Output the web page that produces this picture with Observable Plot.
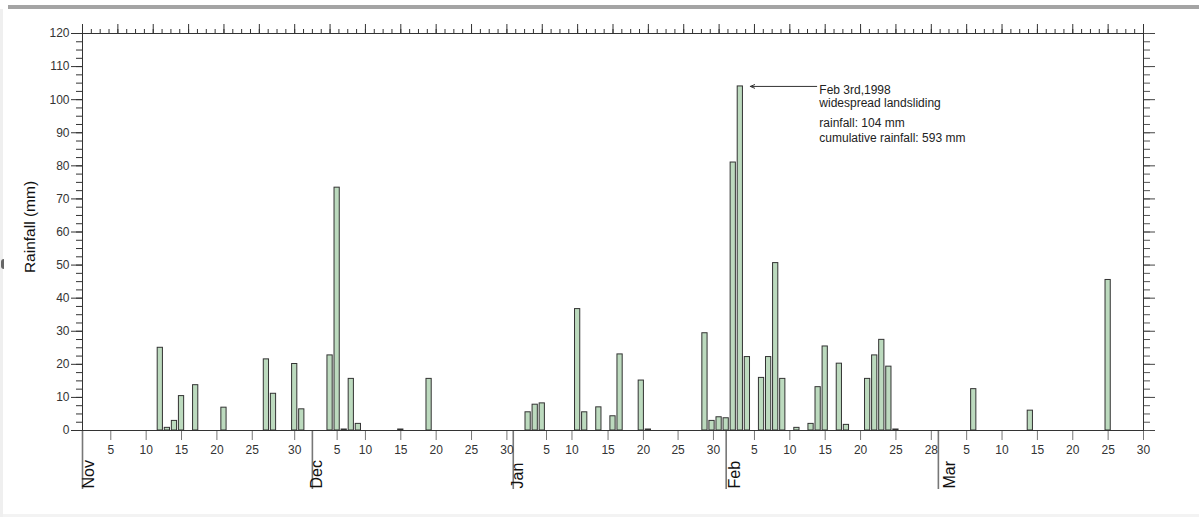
<!DOCTYPE html>
<html>
<head>
<meta charset="utf-8">
<script src="https://cdn.jsdelivr.net/npm/d3@7"></script>
<script src="https://cdn.jsdelivr.net/npm/@observablehq/plot@0.6"></script>
<style>
  html, body { margin: 0; padding: 0; background: #fff; }
  #wrap { position: relative; width: 1199px; height: 517px; overflow: hidden; }
  #wrap svg { position: absolute; left: 0; top: 0; }
  .topbar { position: absolute; left: 8px; top: 5px; width: 1191px; height: 4px; background: #a4a4a4; }
  .leftbar { position: absolute; left: 0; top: 9px; width: 3px; height: 508px; background: #efefef; }
  .bottombar { position: absolute; left: 3px; top: 514px; width: 1196px; height: 3px; background: #f3f3f3; }
  .nub { position: absolute; left: 1px; top: 259px; width: 3px; height: 10px; background: #666; border-radius: 3px 0 0 3px; }
</style>
</head>
<body>
<div id="wrap">
  <div class="topbar"></div>
  <div class="leftbar"></div>
  <div class="bottombar"></div>
  <div class="nub"></div>
</div>
<script>
// Day index along the plotted time axis (left edge = 0, right edge = 150)
const barDay = [11,12,13,14,16,20,26,27,30,31,35,36,37,38,39,45,49,63,64,65,70,71,73,75,76,79,80,88,89,90,91,92,93,94,96,97,98,99,101,103,104,105,107,108,111,112,113,114,115,126,134,145];
// Daily rainfall (mm)
const barRain = [25,0.8,2.9,10.4,13.7,6.9,21.5,11.1,20.1,6.4,22.7,73.4,0.3,15.6,2.0,0.3,15.6,5.5,7.8,8.2,36.7,5.5,7.0,4.3,23.0,15.1,0.3,29.4,2.9,4.0,3.7,81.0,104,22.2,15.9,22.2,50.6,15.6,0.8,2.0,13.1,25.4,20.2,1.7,15.6,22.7,27.4,19.3,0.3,12.5,6.0,45.5];

// Bottom axis day ticks
const dayTickPos = [4,9,14,19,24,30, 36,40,45,50,55,60, 65.6,69.2,74.3,79.3,84.2,89.2, 95,100,105,110,115,120, 125,130,135,140,145,150];
const dayTickLabel = ["5","10","15","20","25","30", "5","10","15","20","25","30", "5","10","15","20","25","30", "5","10","15","20","25","28", "5","10","15","20","25","30"];

// Months
const monthNames = ["Nov","Dec","Jan","Feb","Mar"];
const monthStart = [0, 32.5, 60.9, 91, 121];
const monthLabelPos = [1.6, 33.9, 62.3, 93.0, 123.3];

// Y ticks
const yMajor = [0,10,20,30,40,50,60,70,80,90,100,110,120];

// Annotation
const annotDay = 93;
const annotValue = 104;
const annotLines1 = ["Feb 3rd,1998", "widespread landsliding"];
const annotLines2 = ["rainfall: 104 mm", "cumulative rainfall: 593 mm"];
const yTitle = "Rainfall (mm)";

const bars = barDay.map((d, i) => ({day: d, rain: barRain[i]}));
const tickLabelMap = new Map(dayTickPos.map((p, i) => [p, dayTickLabel[i]]));
const months = monthNames.map((m, i) => ({name: m, start: monthStart[i], label: monthLabelPos[i]}));
const yMinor = d3.range(0, 120.001, 2.5);
const topMajor = d3.range(0, 150.001, 5);
const topMinor = d3.range(0, 150.001, 1.25);
const half = 0.37;
const blank = () => "";

const chart = Plot.plot({
  width: 1199,
  height: 517,
  marginTop: 33,
  marginBottom: 87,
  marginLeft: 82,
  marginRight: 56,
  x: {domain: [0, 150]},
  y: {domain: [0, 120]},
  style: {
    fontFamily: "'Liberation Sans', Arial, Helvetica, sans-serif",
    fontSize: "12px",
    color: "#333",
    background: "transparent",
    overflow: "visible"
  },
  marks: [
    Plot.axisX({ticks: monthStart, tickSize: 59, tickFormat: blank, stroke: "#777", strokeWidth: 1.6, label: null}),
    Plot.axisX({ticks: dayTickPos, tickSize: 10, tickPadding: 5, tickFormat: d => tickLabelMap.get(d), stroke: "#777", fill: "#333", fontSize: 12, label: null}),
    Plot.axisX({anchor: "top", ticks: topMajor, tickSize: 10, tickFormat: blank, stroke: "#333", label: null}),
    Plot.axisX({anchor: "top", ticks: topMinor, tickSize: 5, tickFormat: blank, stroke: "#333", label: null}),
    Plot.axisY({ticks: yMajor, tickSize: 11, tickPadding: 2, stroke: "#333", fill: "#333", fontSize: 12, label: null}),
    Plot.axisY({ticks: yMinor, tickSize: 6, tickFormat: blank, stroke: "#333", label: null}),
    Plot.axisY({anchor: "right", ticks: yMajor, tickSize: 11, tickFormat: blank, stroke: "#444", label: null}),
    Plot.axisY({anchor: "right", ticks: yMinor, tickSize: 6, tickFormat: blank, stroke: "#555", label: null}),
    Plot.frame({stroke: "#333"}),
    Plot.rectY(bars, {x1: d => d.day - half, x2: d => d.day + half, y: "rain", fill: "#bcdabe", stroke: "#333", strokeWidth: 1}),
    Plot.text(months, {x: "label", frameAnchor: "bottom", text: "name", rotate: -90, textAnchor: "start", dy: 58, fontSize: 16, fill: "#111"}),
    Plot.text([yTitle], {text: d => d, frameAnchor: "left", textAnchor: "middle", rotate: -90, dx: -52, dy: -5, fontSize: 15.5, fill: "#111"}),
    Plot.arrow([0], {x1: annotDay + 10.8, x2: annotDay, y1: annotValue, y2: annotValue, insetEnd: 10, headLength: 7, headAngle: 45, stroke: "#333", strokeWidth: 1}),
    Plot.text([annotLines1.join("\n")], {text: d => d, x: annotDay, y: annotValue, dx: 79, dy: -2, textAnchor: "start", lineAnchor: "top", lineHeight: 1.12, fontSize: 12, fill: "#222"}),
    Plot.text([annotLines2.join("\n")], {text: d => d, x: annotDay, y: annotValue, dx: 79, dy: 31, textAnchor: "start", lineAnchor: "top", lineHeight: 1.18, fontSize: 12, fill: "#222"})
  ]
});

document.getElementById("wrap").appendChild(chart);
</script>
</body>
</html>
